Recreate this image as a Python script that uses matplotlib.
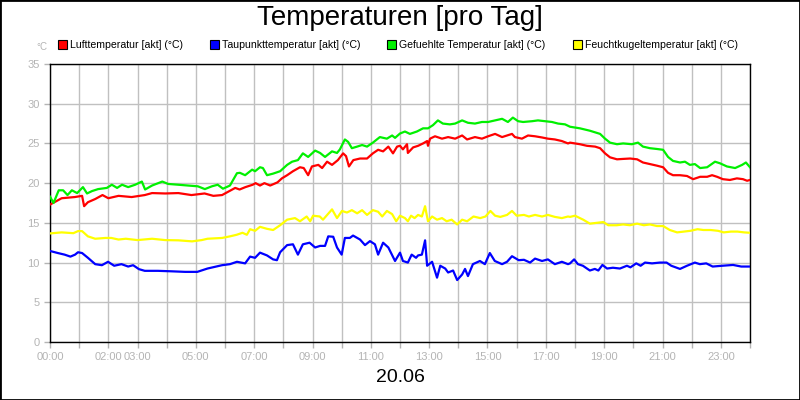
import matplotlib
matplotlib.use('Agg')
import matplotlib.pyplot as plt
from matplotlib.patches import Rectangle

plt.rcParams['font.family'] = ['Liberation Sans', 'DejaVu Sans']

# Stunden seit 00:00, Werte in °C
luft_t = [0.0,0.15,0.4,0.85,1.1,1.17,1.3,1.55,1.8,2.0,2.35,2.8,3.25,3.5,3.95,4.4,4.85,5.3,5.6,5.9,
          6.15,6.35,6.5,6.7,6.95,7.05,7.2,7.35,7.55,7.8,7.95,8.13,8.33,8.57,8.7,8.85,8.98,9.2,9.33,9.5,
          9.67,9.87,10.05,10.15,10.25,10.4,10.63,10.87,11.07,11.25,11.42,11.6,11.76,11.9,12.0,12.1,12.24,
          12.27,12.45,12.62,12.79,12.93,12.96,13.03,13.2,13.44,13.65,13.89,14.13,14.3,14.57,14.81,15.02,
          15.26,15.5,15.84,15.94,16.18,16.39,16.63,16.87,17.07,17.31,17.55,17.76,17.83,18.17,18.41,18.69,
          18.86,19.03,19.2,19.44,19.65,19.89,20.13,20.33,20.57,20.81,21.02,21.19,21.36,21.6,21.84,22.05,
          22.29,22.53,22.7,22.87,23.07,23.31,23.55,23.76,23.9,24.0]
luft_v = [17.3,17.6,18.1,18.25,18.4,17.1,17.6,18.0,18.5,18.1,18.4,18.25,18.5,18.75,18.7,18.75,18.5,18.7,18.4,18.5,
          19.0,19.4,19.2,19.5,19.8,20.0,19.7,20.0,19.7,20.1,20.6,21.0,21.5,22.0,21.9,21.0,22.1,22.3,21.9,22.7,
          22.3,22.9,23.75,23.4,22.1,22.9,23.1,23.1,23.75,24.2,24.0,24.6,23.75,24.6,24.7,24.25,24.9,
          23.8,24.5,24.7,25.0,25.3,24.7,25.6,25.9,25.6,25.8,25.6,26.0,25.5,25.8,25.6,25.9,
          26.2,25.8,26.2,25.8,25.6,26.0,25.9,25.75,25.6,25.5,25.3,25.0,25.1,24.9,24.7,24.6,
          24.4,23.75,23.25,23.0,23.05,23.1,23.0,22.6,22.4,22.2,22.0,21.3,21.0,21.0,20.9,20.5,
          20.8,20.8,21.0,20.8,20.5,20.4,20.6,20.5,20.3,20.4]

tau_t = [0.0,0.27,0.5,0.7,0.86,0.96,1.1,1.3,1.55,1.78,1.99,2.2,2.45,2.68,2.85,3.05,3.25,3.7,4.17,4.63,5.05,5.4,5.9,
         6.17,6.41,6.69,6.86,7.03,7.2,7.44,7.65,7.78,7.89,8.13,8.33,8.5,8.67,8.9,9.09,9.26,9.43,9.54,9.71,9.84,
         10.0,10.11,10.28,10.39,10.63,10.8,10.97,11.14,11.25,11.42,11.6,11.83,12.0,12.1,12.27,12.4,12.55,12.62,
         12.75,12.86,12.93,13.1,13.27,13.38,13.55,13.65,13.82,13.96,14.13,14.23,14.33,14.5,14.74,14.91,15.08,
         15.25,15.5,15.67,15.84,16.07,16.25,16.46,16.63,16.87,17.07,17.31,17.55,17.76,17.83,17.97,18.1,18.27,
         18.51,18.68,18.8,18.94,19.1,19.3,19.54,19.78,19.9,20.1,20.25,20.4,20.64,20.91,21.14,21.3,21.6,21.84,
         22.11,22.28,22.5,22.72,23.05,23.42,23.7,24.0]
tau_v = [11.46,11.2,11.0,10.75,11.0,11.3,11.2,10.6,9.8,9.67,10.1,9.6,9.8,9.5,9.67,9.17,8.96,8.96,8.9,8.83,8.83,9.25,9.67,
         9.8,10.1,9.9,10.75,10.6,11.25,10.9,10.4,10.3,11.3,12.2,12.3,11.0,12.3,12.5,11.9,12.1,12.1,13.3,13.25,11.9,
         11.0,13.1,13.1,13.4,12.9,12.2,12.7,12.3,11.0,12.5,11.9,10.2,11.25,10.2,10.0,11.0,10.6,10.9,
         11.0,12.8,9.6,10.1,8.1,9.6,9.25,8.75,9.0,7.8,8.5,9.2,8.3,9.8,10.2,9.8,11.2,
         10.2,9.8,10.1,10.8,10.3,10.35,10.0,10.5,10.2,10.4,9.8,10.1,9.8,9.9,10.4,9.8,9.6,
         9.0,9.2,9.0,9.7,9.25,9.35,9.25,9.6,9.4,9.9,9.6,10.0,9.9,10.0,10.0,9.6,9.2,9.6,
         10.0,9.8,9.9,9.5,9.6,9.7,9.5,9.5]

gef_t = [0.0,0.12,0.3,0.45,0.6,0.75,0.93,1.13,1.27,1.44,1.65,1.95,2.12,2.3,2.47,2.68,2.92,3.15,3.26,3.5,3.85,4.05,
         4.4,4.73,5.07,5.31,5.55,5.75,5.93,6.17,6.41,6.51,6.69,6.93,7.03,7.2,7.3,7.44,7.65,7.89,8.13,8.3,8.5,8.67,
         8.85,9.09,9.26,9.43,9.67,9.84,9.94,10.11,10.22,10.35,10.53,10.7,10.87,11.07,11.31,11.55,11.73,11.83,12.0,
         12.17,12.34,12.58,12.79,12.96,13.13,13.3,13.47,13.71,13.89,14.13,14.33,14.57,14.81,15.02,15.26,15.5,15.7,
         15.87,16.05,16.22,16.53,16.73,16.97,17.21,17.42,17.66,17.83,18.17,18.51,18.86,19.03,19.2,19.44,19.65,
         19.95,20.16,20.33,20.57,20.81,21.02,21.19,21.36,21.6,21.77,21.94,22.11,22.29,22.53,22.8,22.97,23.21,
         23.49,23.73,23.86,24.0]
gef_v = [18.3,17.5,19.1,19.1,18.5,19.1,18.75,19.5,18.7,19.0,19.25,19.4,19.8,19.4,19.8,19.5,19.8,20.2,19.2,19.7,20.2,19.9,
         19.8,19.7,19.6,19.25,19.6,19.8,19.3,19.7,21.25,21.3,21.0,21.7,21.5,22.0,21.9,21.0,21.2,21.5,22.3,22.7,22.9,23.75,
         23.3,24.1,23.8,23.3,24.0,23.8,24.25,25.5,25.2,24.4,24.6,24.8,24.6,25.1,25.8,25.6,26.0,25.7,26.25,
         26.5,26.2,26.5,26.9,26.9,27.3,27.9,27.5,27.4,27.5,27.9,27.6,27.5,27.7,27.7,27.9,28.1,27.7,
         28.25,27.8,27.7,27.8,27.9,27.8,27.7,27.5,27.4,27.1,26.9,26.6,26.2,25.6,25.1,24.9,25.0,
         24.9,25.1,24.6,24.4,24.3,24.2,23.3,22.8,22.6,22.7,22.3,22.4,21.9,22.0,22.7,22.5,22.1,
         21.9,22.3,22.6,22.0]

feucht_t = [0.0,0.4,0.8,0.96,1.1,1.3,1.55,1.9,2.1,2.35,2.6,3.0,3.5,3.95,4.4,4.87,5.2,5.4,5.9,
            6.17,6.4,6.6,6.75,6.86,7.03,7.2,7.44,7.65,7.89,8.13,8.4,8.57,8.8,8.92,9.02,9.25,9.36,9.67,9.84,
            10.01,10.18,10.35,10.53,10.7,10.87,11.07,11.25,11.39,11.55,11.73,11.87,12.0,12.17,12.27,12.38,12.5,
            12.62,12.75,12.86,12.9,12.96,13.1,13.27,13.44,13.6,13.77,13.96,14.13,14.3,14.52,14.75,14.93,15.1,
            15.26,15.44,15.67,15.84,16.0,16.25,16.42,16.63,16.87,17.07,17.31,17.55,17.76,17.83,18.0,18.28,
            18.51,18.74,18.97,19.14,19.43,19.65,19.88,20.13,20.36,20.57,20.81,21.02,21.25,21.5,21.73,21.96,
            22.2,22.4,22.65,22.9,23.1,23.35,23.57,23.8,24.0]
feucht_v = [13.67,13.8,13.7,13.96,13.96,13.3,13.0,13.1,13.1,12.9,13.0,12.83,13.0,12.83,12.8,12.67,12.83,13.0,13.1,
            13.3,13.5,13.75,13.5,14.2,14.0,14.5,14.25,14.1,14.7,15.4,15.6,15.2,15.8,15.2,15.9,15.8,15.4,16.7,15.6,
            16.5,16.3,16.6,16.2,16.6,16.0,16.6,16.4,15.8,16.5,16.1,15.2,15.9,15.6,15.2,15.9,15.6,
            16.0,15.8,17.1,16.3,15.2,15.8,15.4,15.6,15.2,15.4,14.8,15.4,15.2,15.8,15.6,15.8,16.5,
            15.9,15.75,16.0,16.5,15.9,16.0,15.8,16.0,15.8,16.0,15.75,15.6,15.8,15.75,15.9,15.4,
            14.9,15.0,15.1,14.7,14.7,14.8,14.7,14.9,14.7,14.8,14.6,14.6,14.1,13.8,13.9,14.0,
            14.2,14.1,14.1,14.0,13.8,13.9,13.9,13.8,13.75]

serien = [
    ('Lufttemperatur [akt] (°C)', luft_t, luft_v, '#ff0000'),
    ('Taupunkttemperatur [akt] (°C)', tau_t, tau_v, '#0000ff'),
    ('Gefuehlte Temperatur [akt] (°C)', gef_t, gef_v, '#00f000'),
    ('Feuchtkugeltemperatur [akt] (°C)', feucht_t, feucht_v, '#ffff00'),
]
tick_stunden = [0, 2, 3, 5, 7, 9, 11, 13, 15, 17, 19, 21, 23]
legende_x = [58, 210, 387, 573]

grau = '#b4b4b4'
fig = plt.figure(figsize=(8, 4), dpi=100)
fig.patch.set_facecolor('white')
fig.patches.append(Rectangle((0, 0), 1, 1, transform=fig.transFigure, fill=False,
                             edgecolor='black', linewidth=2))
ax = fig.add_axes([50/800, 58/400, 700/800, 278/400])

for name, t, v, farbe in serien:
    ax.plot(t, v, color=farbe, linewidth=1.6, zorder=3)

ax.set_xlim(0, 24)
ax.set_ylim(0, 35)
ax.set_yticks(range(0, 36, 5))
ax.set_xticks(range(0, 25))
ax.set_xticklabels(['%02d:00' % h if h in tick_stunden else '' for h in range(0, 25)])
ax.grid(True, color='#c0c0c0', linewidth=1)
ax.set_axisbelow(True)
ax.tick_params(colors=grau, labelcolor=grau, labelsize=8, length=4, width=1)
for s in ax.spines.values():
    s.set_color('black')
    s.set_linewidth(1)

# Legende
for (name, t, v, farbe), lx in zip(serien, legende_x):
    fig.patches.append(Rectangle((lx/800, (400-49)/400), 9/800, 9/400, transform=fig.transFigure,
                                 facecolor=farbe, edgecolor='black', linewidth=0.8))
    fig.text((lx+12)/800, (400-44.5)/400, name, fontsize=7.6, va='center', ha='left')
fig.text(42/800, (400-47)/400, '°C', fontsize=7, color=grau, ha='center', va='center')

fig.text(0.5, (400-18)/400, 'Temperaturen [pro Tag]', fontsize=20, ha='center', va='center')
fig.text(0.5, (400-378)/400, '20.06', fontsize=14, ha='center', va='center')

fig.savefig('out.png', dpi=100)
